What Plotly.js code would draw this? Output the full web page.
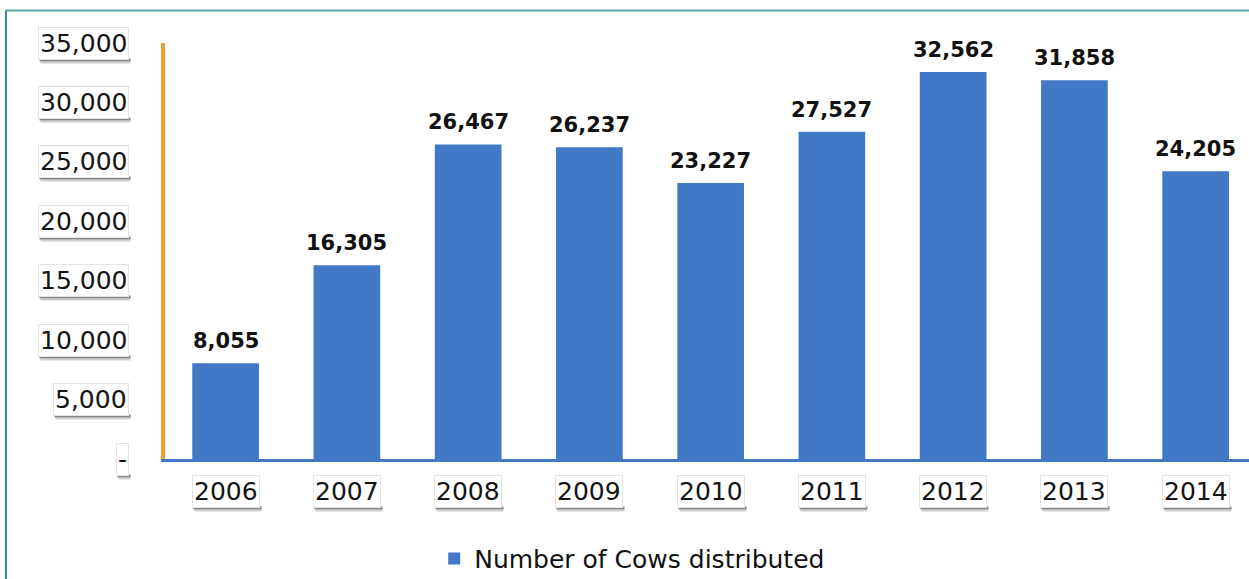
<!DOCTYPE html>
<html>
<head>
<meta charset="utf-8">
<script src="https://cdn.plot.ly/plotly-3.0.1.min.js"></script>
<style>html,body{margin:0;padding:0;background:#fff;}#chart{width:1249px;height:579px;}</style>
</head>
<body>
<div id="chart"></div>
<script>
const years = ["2006","2007","2008","2009","2010","2011","2012","2013","2014"];
const cows = [8055, 16305, 26467, 26237, 23227, 27527, 32562, 31858, 24205];
const yTickVals = [0, 5000, 10000, 15000, 20000, 25000, 30000, 35000];
const yTickText = ["-", "5,000", "10,000", "15,000", "20,000", "25,000", "30,000", "35,000"];
const seriesName = "Number of Cows distributed";

const barColor = "#4279c6";
const tickFont = {family: "DejaVu Sans", size: 25, color: "#141414"};
const fmt = v => v.toLocaleString("en-US");

const trace = {
  type: "bar",
  x: years,
  y: cows,
  name: seriesName,
  marker: {color: barColor},
  showlegend: true,
  hoverinfo: "x+y"
};

function boxed(base, text) {
  return Object.assign({}, base, {
    text: text, showarrow: false, font: tickFont,
    bgcolor: "#ffffff", borderpad: 1, borderwidth: 1, bordercolor: "#e4e4e4"
  });
}

const annotations = [];
yTickVals.forEach((v, i) => {
  annotations.push(boxed({
    xref: "paper", yref: "y", x: 0, y: v, xanchor: "right", yanchor: "middle", xshift: -36
  }, yTickText[i]));
});
years.forEach((yr, i) => {
  annotations.push(boxed({
    xref: "x", yref: "y", x: i, y: 0, xanchor: "center", yanchor: "top", yshift: -16
  }, yr));
});
const nBoxed = annotations.length;
years.forEach((yr, i) => {
  annotations.push({
    x: i, y: cows[i], xref: "x", yref: "y",
    text: "<b>" + fmt(cows[i]) + "</b>",
    showarrow: false, yanchor: "bottom", yshift: 8,
    font: {family: "DejaVu Sans", size: 21, color: "#111"}
  });
});

const frameShapes = [
  {type: "line", xref: "paper", yref: "paper", x0: -0.1467, x1: 1.01, y0: 1.078, y1: 1.078, line: {color: "#5aacaa", width: 2}},
  {type: "line", xref: "paper", yref: "paper", x0: -0.1467, x1: -0.1467, y0: 1.078, y1: -0.3, line: {color: "#2f8f8c", width: 2}}
];

const layout = {
  width: 1249, height: 579,
  margin: {l: 165, r: 0, t: 43, b: 120, autoexpand: false},
  paper_bgcolor: "#fff", plot_bgcolor: "#fff",
  bargap: 0.45,
  xaxis: {
    type: "category",
    range: [-0.5, 8.44],
    showgrid: false, zeroline: false,
    showline: true, linecolor: barColor, linewidth: 3,
    ticks: "", showticklabels: false
  },
  yaxis: {
    range: [0, 35000],
    tickvals: yTickVals, ticktext: yTickText,
    showgrid: false, zeroline: false,
    showline: true, linecolor: "#f39a33", linewidth: 4,
    ticks: "", showticklabels: false
  },
  legend: {
    orientation: "h", x: 0.431, xanchor: "center", y: -0.24, yanchor: "middle",
    font: {family: "DejaVu Sans", size: 25, color: "#111"}
  },
  annotations: annotations,
  shapes: frameShapes
};

Plotly.newPlot("chart", [trace], layout, {displayModeBar: false, staticPlot: true}).then(gd => {
  // soft drop shadow under each boxed axis label, sized from the rendered boxes
  const s = gd._fullLayout._size;
  const toX = px => (px - s.l) / s.w;
  const toY = py => (s.t + s.h - py) / s.h;
  const shadows = [];
  gd.querySelectorAll("g.annotation").forEach(g => {
    const idx = +g.getAttribute("data-index");
    if (!(idx < nBoxed)) return;
    const bg = g.querySelector("rect.bg");
    if (!bg) return;
    const r = bg.getBoundingClientRect();
    shadows.push({type: "rect", xref: "paper", yref: "paper", layer: "below",
      x0: toX(r.left + 1), x1: toX(r.right + 2), y0: toY(r.bottom + 2), y1: toY(r.bottom - 1),
      fillcolor: "rgba(95,95,95,0.75)", line: {width: 0}});
    shadows.push({type: "rect", xref: "paper", yref: "paper", layer: "below",
      x0: toX(r.left + 2), x1: toX(r.right + 2), y0: toY(r.bottom + 4), y1: toY(r.bottom + 2),
      fillcolor: "rgba(160,160,160,0.5)", line: {width: 0}});
  });
  return Plotly.relayout(gd, {shapes: frameShapes.concat(shadows)});
});
</script>
</body>
</html>
